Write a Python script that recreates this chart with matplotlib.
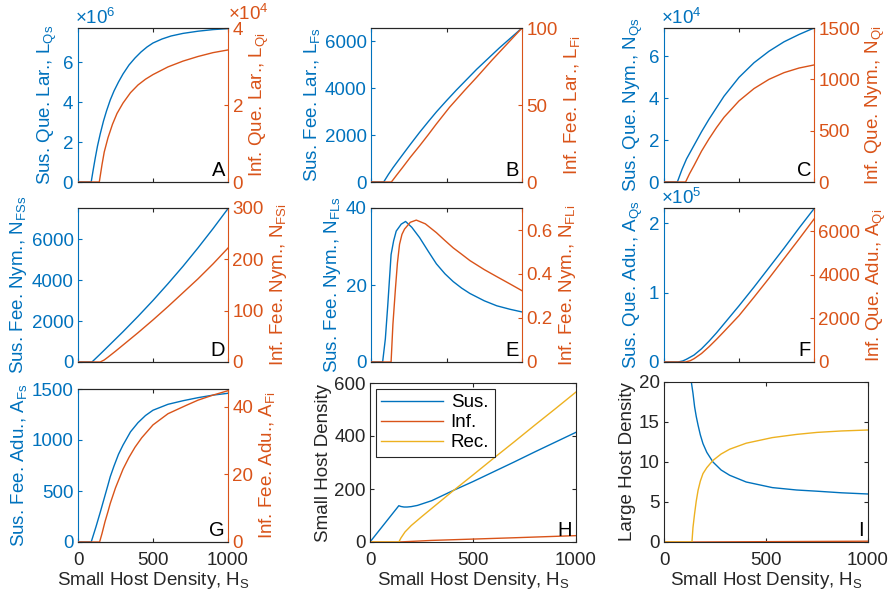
import matplotlib.pyplot as plt
from matplotlib.ticker import FormatStrFormatter, ScalarFormatter
from matplotlib.transforms import ScaledTranslation

plt.rcParams['font.family'] = ['Liberation Sans', 'DejaVu Sans']
plt.rcParams['mathtext.fontset'] = 'custom'
plt.rcParams['mathtext.rm'] = 'Liberation Sans'
plt.rcParams['mathtext.it'] = 'Liberation Sans:italic'

FS = 13.5
BLUE = '#0072BD'
ORANGE = '#D95319'
YELLOW = '#EDB120'
DARK = '#262626'

# ---- data (x = small host density H_S) ----
# A: susceptible / infected questing larvae
a_s_x = [0, 88, 100, 115, 130, 148, 170, 190, 215, 240, 270, 300, 340, 380, 420, 460, 500, 560, 620, 700, 800, 900, 1000]
a_s_y = [0, 0, 0.55e6, 1.2e6, 1.8e6, 2.4e6, 3.05e6, 3.55e6, 4.1e6, 4.55e6, 5.0e6, 5.4e6, 5.85e6, 6.2e6,
         6.5e6, 6.75e6, 6.95e6, 7.15e6, 7.3e6, 7.43e6, 7.54e6, 7.62e6, 7.67e6]
a_i_x = [0, 142, 150, 160, 175, 200, 230, 260, 300, 350, 400, 450, 500, 600, 700, 800, 900, 1000]
a_i_y = [0, 0, 0.2e4, 0.45e4, 0.78e4, 1.15e4, 1.5e4, 1.78e4, 2.05e4, 2.32e4, 2.52e4, 2.67e4, 2.79e4,
         2.99e4, 3.14e4, 3.26e4, 3.36e4, 3.43e4]

# B: feeding larvae
b_s_x = [0, 84, 115, 146, 180, 212, 260, 322, 380, 433, 500, 565, 700, 850, 1000]
b_s_y = [0, 0, 320, 613, 910, 1187, 1600, 2120, 2580, 2990, 3470, 3920, 4810, 5720, 6570]
b_i_x = [0, 135, 170, 212, 260, 322, 380, 433, 520, 620, 700, 800, 900, 1000]
b_i_y = [0, 0, 4.5, 9.8, 16, 23.5, 30.8, 37.7, 48.5, 59.5, 68, 79, 89.5, 100]

# C: questing nymphs
c_s_x = [0, 89, 120, 150, 200, 250, 300, 350, 400, 500, 600, 700, 800, 900, 1000]
c_s_y = [0, 0, 0.6e4, 1.1e4, 1.75e4, 2.4e4, 3.0e4, 3.55e4, 4.1e4, 5.0e4, 5.7e4, 6.25e4, 6.7e4, 7.05e4, 7.36e4]
c_i_x = [0, 144, 170, 200, 250, 300, 350, 400, 500, 600, 700, 800, 900, 1000]
c_i_y = [0, 0, 80, 160, 300, 420, 530, 630, 790, 910, 1000, 1065, 1110, 1140]

# D: feeding nymphs on small hosts
d_s_x = [0, 93, 150, 200, 300, 400, 500, 600, 700, 800, 900, 1000]
d_s_y = [0, 0, 400, 760, 1480, 2230, 3010, 3830, 4680, 5580, 6520, 7500]
d_i_x = [0, 148, 175, 200, 250, 300, 400, 500, 600, 700, 800, 900, 1000]
d_i_y = [0, 0, 4, 9.5, 21, 33, 57, 82, 108, 135, 162, 191, 222]

# E: feeding nymphs on large hosts
e_s_x = [0, 77, 95, 111, 133, 150, 167, 200, 229, 270, 322, 380, 433, 490, 544, 600, 655, 750, 833, 920, 1000]
e_s_y = [0, 0, 6, 14.7, 27.9, 31.5, 34, 35.8, 36.5, 35.0, 32.3, 28.7, 25.5, 22.9, 20.9, 19.2, 17.8,
         15.9, 14.6, 13.7, 13.0]
e_i_x = [0, 133, 145, 162, 175, 189, 205, 222, 260, 300, 360, 433, 490, 544, 600, 655, 750, 833, 920, 1000]
e_i_y = [0, 0, 0.17, 0.335, 0.45, 0.535, 0.58, 0.604, 0.635, 0.645, 0.628, 0.588, 0.552, 0.519,
         0.49, 0.461, 0.42, 0.388, 0.355, 0.324]

# F: questing adults
f_s_x = [0, 93, 125, 150, 200, 250, 300, 350, 400, 450, 500, 600, 700, 800, 900, 1000]
f_s_y = [0, 0, 0.015e5, 0.04e5, 0.1e5, 0.19e5, 0.3e5, 0.42e5, 0.55e5, 0.68e5, 0.81e5, 1.08e5,
         1.36e5, 1.64e5, 1.93e5, 2.21e5]
f_i_x = [0, 144, 175, 200, 250, 300, 350, 400, 500, 600, 700, 800, 900, 1000]
f_i_y = [0, 0, 60, 150, 390, 700, 1040, 1400, 2130, 2980, 3850, 4750, 5650, 6570]

# G: feeding adults
g_s_x = [0, 88, 120, 150, 175, 200, 215, 240, 270, 300, 350, 400, 450, 500, 600, 700, 800, 900, 1000]
g_s_y = [0, 0, 150, 300, 430, 560, 640, 745, 860, 950, 1080, 1170, 1240, 1292, 1350, 1385, 1415, 1440, 1458]
g_i_x = [0, 144, 160, 180, 200, 215, 250, 300, 340, 380, 425, 500, 600, 723, 800, 900, 1000]
g_i_y = [0, 0, 2.5, 6, 9, 11.4, 16, 21.5, 25.0, 28.0, 30.8, 34.6, 37.9, 40.4, 41.9, 43.4, 44.7]

# H: small hosts
h_sus_x = [0, 140, 150, 165, 180, 200, 230, 300, 400, 500, 600, 700, 800, 900, 1000]
h_sus_y = [0, 137, 134, 132, 132, 133.5, 138, 156, 193, 228, 265, 302, 340, 377, 414]
h_inf_x = [0, 140, 300, 500, 700, 1000]
h_inf_y = [0, 0, 6, 11, 16, 24]
h_rec_x = [0, 140, 150, 170, 200, 250, 300, 400, 500, 600, 700, 800, 900, 1000]
h_rec_y = [0, 0, 15, 38, 62, 95, 127, 191, 253, 316, 378, 441, 503, 566]

# I: large hosts
i_sus_x = [0, 134, 142, 150, 158, 167, 178, 191, 210, 240, 280, 322, 403, 531, 650, 750, 870, 1000]
i_sus_y = [20, 20, 18.6, 16.9, 15.7, 14.6, 13.4, 12.3, 11.2, 10.0, 9.0, 8.34, 7.5, 6.8, 6.5, 6.35, 6.15, 6.0]
i_inf_x = [0, 139, 1000]
i_inf_y = [0, 0, 0.1]
i_rec_x = [0, 137, 142, 150, 158, 167, 178, 191, 210, 240, 280, 322, 403, 531, 650, 750, 870, 1000]
i_rec_y = [0, 0, 1.8, 3.55, 5.1, 6.46, 7.6, 8.55, 9.3, 10.2, 11.0, 11.6, 12.35, 13.05, 13.45, 13.7, 13.88, 14.0]

W, H = 891, 597
fig = plt.figure(figsize=(W / 100, H / 100), dpi=100)


def box(left, top, right, bottom):
    return [left / W, 1 - bottom / H, (right - left) / W, (bottom - top) / H]


def style_x(ax, show_labels):
    ax.set_xlim(0, 1000)
    ax.set_xticks([0, 500, 1000])
    ax.tick_params(axis='x', direction='in', top=True, length=3, colors=DARK,
                   labelbottom=show_labels, labelsize=FS, pad=7)
    if show_labels:
        ax.set_xlabel('Small Host Density, H$_\\mathrm{S}$', color=DARK, fontsize=FS, labelpad=1)


def sci(ax, color, side):
    fmt = ScalarFormatter(useMathText=True)
    fmt.set_powerlimits((0, 0))
    ax.yaxis.set_major_formatter(fmt)
    off = ax.yaxis.get_offset_text()
    off.set_color(color)
    off.set_fontsize(FS)
    off.set_horizontalalignment('left')
    if side == 'right':
        off.set_x(1.0)
        # lift it a little so it clears the top tick label
        off.set_transform(off.get_transform() + ScaledTranslation(0, 3 / 72, fig.dpi_scale_trans))
    else:
        off.set_x(-0.02)


def twin_panel(pos, xs, ys, xi, yi, lim_s, ticks_s, lim_i, ticks_i,
               label_s, label_i, letter, bottom_row=False, sci_s=False, sci_i=False):
    ax = fig.add_axes(box(*pos))
    ax2 = ax.twinx()
    ax.plot(xs, ys, color=BLUE, lw=1.0)
    ax2.plot(xi, yi, color=ORANGE, lw=1.0)
    style_x(ax, bottom_row)
    ax.set_ylim(*lim_s)
    ax.set_yticks(ticks_s)
    ax2.set_ylim(*lim_i)
    ax2.set_yticks(ticks_i)
    if sci_s:
        sci(ax, BLUE, 'left')
    else:
        ax.yaxis.set_major_formatter(FormatStrFormatter('%g'))
    if sci_i:
        sci(ax2, ORANGE, 'right')
    else:
        ax2.yaxis.set_major_formatter(FormatStrFormatter('%g'))
    ax.tick_params(axis='y', direction='in', length=3, colors=BLUE, labelsize=FS, pad=3)
    ax2.tick_params(axis='y', direction='in', length=3, colors=ORANGE, labelsize=FS, pad=3)
    for a in (ax, ax2):
        for s in a.spines.values():
            s.set_linewidth(0.8)
        a.spines['top'].set_color(DARK)
        a.spines['bottom'].set_color(DARK)
    ax.spines['right'].set_visible(False)
    ax2.spines['left'].set_visible(False)
    ax.spines['left'].set_color(BLUE)
    ax2.spines['right'].set_color(ORANGE)
    ax.set_ylabel(label_s, color=BLUE, fontsize=FS, labelpad=2)
    ax2.set_ylabel(label_i, color=ORANGE, fontsize=FS, labelpad=3)
    ax.text(0.98, 0.01, letter, transform=ax.transAxes, ha='right', va='bottom',
            fontsize=FS + 1, color='black', zorder=5)
    return ax, ax2


twin_panel((78, 28, 228, 182), a_s_x, a_s_y, a_i_x, a_i_y,
           (0, 7.7e6), [0, 2e6, 4e6, 6e6], (0, 4e4), [0, 2e4, 4e4],
           'Sus. Que. Lar., L$_\\mathrm{Qs}$', 'Inf. Que. Lar., L$_\\mathrm{Qi}$', 'A',
           sci_s=True, sci_i=True)
twin_panel((371, 28, 522, 182), b_s_x, b_s_y, b_i_x, b_i_y,
           (0, 6570), [0, 2000, 4000, 6000], (0, 100), [0, 50, 100],
           'Sus. Fee. Lar., L$_\\mathrm{Fs}$', 'Inf. Fee. Lar., L$_\\mathrm{Fi}$', 'B')
twin_panel((664, 28, 814, 182), c_s_x, c_s_y, c_i_x, c_i_y,
           (0, 7.36e4), [0, 2e4, 4e4, 6e4], (0, 1500), [0, 500, 1000, 1500],
           'Sus. Que. Nym., N$_\\mathrm{Qs}$', 'Inf. Que. Nym., N$_\\mathrm{Qi}$', 'C',
           sci_s=True)
twin_panel((78, 208, 228, 362), d_s_x, d_s_y, d_i_x, d_i_y,
           (0, 7530), [0, 2000, 4000, 6000], (0, 300), [0, 100, 200, 300],
           'Sus. Fee. Nym., N$_\\mathrm{FSs}$', 'Inf. Fee. Nym., N$_\\mathrm{FSi}$', 'D')
twin_panel((371, 208, 522, 362), e_s_x, e_s_y, e_i_x, e_i_y,
           (0, 40), [0, 20, 40], (0, 0.7), [0, 0.2, 0.4, 0.6],
           'Sus. Fee. Nym., N$_\\mathrm{FLs}$', 'Inf. Fee. Nym., N$_\\mathrm{FLi}$', 'E')
twin_panel((664, 208, 814, 362), f_s_x, f_s_y, f_i_x, f_i_y,
           (0, 2.22e5), [0, 1e5, 2e5], (0, 7080), [0, 2000, 4000, 6000],
           'Sus. Que. Adu., A$_\\mathrm{Qs}$', 'Inf. Que. Adu., A$_\\mathrm{Qi}$', 'F',
           sci_s=True)
twin_panel((78, 389, 228, 542), g_s_x, g_s_y, g_i_x, g_i_y,
           (0, 1500), [0, 500, 1000, 1500], (0, 45.2), [0, 20, 40],
           'Sus. Fee. Adu., A$_\\mathrm{Fs}$', 'Inf. Fee. Adu., A$_\\mathrm{Fi}$', 'G',
           bottom_row=True)


def host_panel(pos, sus, inf, rec, ylim, yticks, ylabel, letter, legend=False):
    ax = fig.add_axes(box(*pos))
    ax.plot(*sus, color=BLUE, lw=1.0, label='Sus.')
    ax.plot(*inf, color=ORANGE, lw=1.0, label='Inf.')
    ax.plot(*rec, color=YELLOW, lw=1.0, label='Rec.')
    style_x(ax, True)
    ax.set_ylim(*ylim)
    ax.set_yticks(yticks)
    ax.tick_params(axis='y', direction='in', right=True, length=3, colors=DARK, labelsize=FS, pad=3)
    for s in ax.spines.values():
        s.set_color(DARK)
        s.set_linewidth(0.8)
    ax.set_ylabel(ylabel, color=DARK, fontsize=FS, labelpad=2)
    ax.text(0.98, 0.01, letter, transform=ax.transAxes, ha='right', va='bottom',
            fontsize=FS + 1, color='black')
    if legend:
        leg = ax.legend(loc='upper left', fontsize=FS, fancybox=False, framealpha=1,
                        edgecolor=DARK, handlelength=3.3, borderaxespad=0.3,
                        labelspacing=0.15, borderpad=0.3, handletextpad=0.4)
        leg.get_frame().set_linewidth(0.8)
    return ax


host_panel((370, 383, 576, 542), (h_sus_x, h_sus_y), (h_inf_x, h_inf_y), (h_rec_x, h_rec_y),
           (0, 600), [0, 200, 400, 600], 'Small Host Density', 'H', legend=True)
host_panel((664, 382, 868, 542), (i_sus_x, i_sus_y), (i_inf_x, i_inf_y), (i_rec_x, i_rec_y),
           (0, 20), [0, 5, 10, 15, 20], 'Large Host Density', 'I')

fig.savefig('out.png', dpi=100)
